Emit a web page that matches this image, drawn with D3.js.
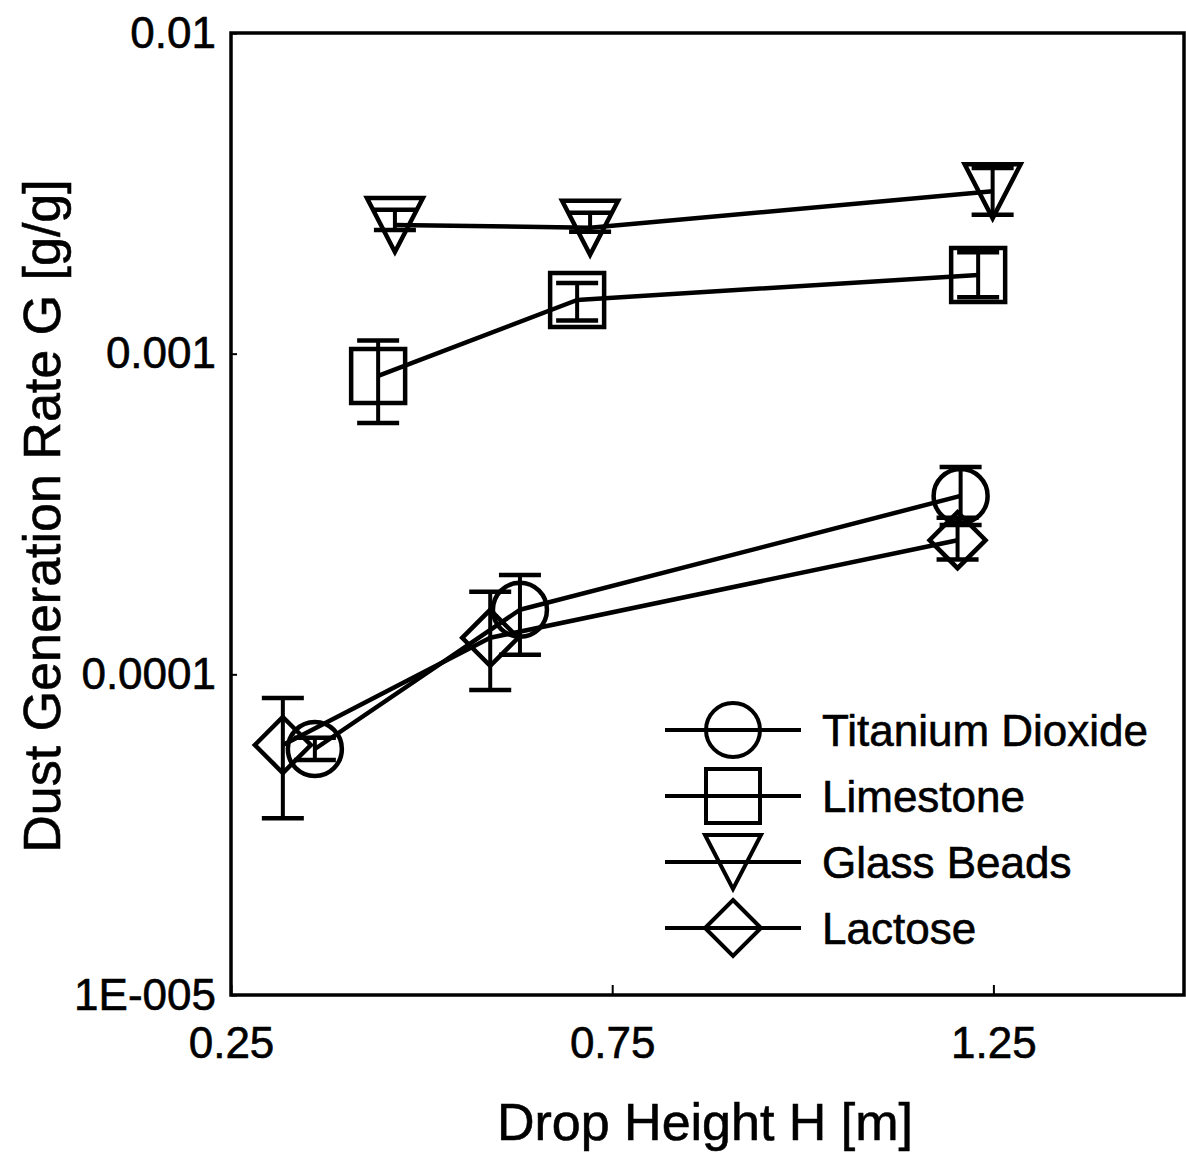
<!DOCTYPE html>
<html>
<head>
<meta charset="utf-8">
<script src="https://cdn.jsdelivr.net/npm/d3@7"></script>
<style>
  html, body { margin: 0; padding: 0; background: #fff; }
  svg { display: block; }
  text { font-family: "Liberation Sans", Arial, sans-serif; fill: #000; stroke: #000; stroke-width: 0.6px; }
</style>
</head>
<body>
<svg id="chart" width="1186" height="1158"></svg>
<script>
// ---------- data ----------
const xTicks = [0.25, 0.75, 1.25];
const xTickLabels = ["0.25", "0.75", "1.25"];
const yTicks = [0.01, 0.001, 0.0001, 0.00001];
const yTickLabels = ["0.01", "0.001", "0.0001", "1E-005"];

const seriesNames = ["Titanium Dioxide", "Limestone", "Glass Beads", "Lactose"];
const seriesSymbols = ["circle", "square", "triangle", "diamond"];

const tio2H    = [0.360, 0.629, 1.207];
const tio2G    = [5.85e-5, 1.59e-4, 3.60e-4];
const tio2Lo   = [5.41e-5, 1.15e-4, 2.92e-4];
const tio2Hi   = [6.34e-5, 2.04e-4, 4.43e-4];

const limeH    = [0.443, 0.704, 1.230];
const limeG    = [8.52e-4, 1.47e-3, 1.76e-3];
const limeLo   = [6.08e-4, 1.27e-3, 1.50e-3];
const limeHi   = [1.10e-3, 1.66e-3, 2.07e-3];

const glassH   = [0.465, 0.721, 1.249];
const glassG   = [2.52e-3, 2.47e-3, 3.21e-3];
const glassLo  = [2.43e-3, 2.40e-3, 2.71e-3];
const glassHi  = [2.81e-3, 2.75e-3, 3.79e-3];

const lactH    = [0.318, 0.590, 1.203];
const lactG    = [6.02e-5, 1.30e-4, 2.62e-4];
const lactLo   = [3.56e-5, 8.93e-5, 2.28e-4];
const lactHi   = [8.43e-5, 1.81e-4, 3.08e-4];

// ---------- layout ----------
const svg = d3.select("#chart");
const L = 231, R = 1184, T = 33, B = 995;

const x = d3.scaleLinear().domain([0.25, 1.5]).range([L, R]);
const y = d3.scaleLog().domain([0.00001, 0.01]).range([B, T]);

// frame
svg.append("rect")
  .attr("x", L).attr("y", T).attr("width", R - L).attr("height", B - T)
  .attr("fill", "none").attr("stroke", "#000").attr("stroke-width", 3.5);

// x axis
const xAxis = svg.append("g").attr("transform", `translate(0,${B})`)
  .call(d3.axisBottom(x).tickValues(xTicks)
    .tickFormat((d, i) => xTickLabels[i])
    .tickSizeInner(-10).tickSizeOuter(0).tickPadding(32));
xAxis.select(".domain").remove();
xAxis.selectAll("line").attr("stroke", "#000").attr("stroke-width", 2);
xAxis.selectAll("text").attr("font-size", 44).attr("font-family", '"Liberation Sans", Arial, sans-serif').attr("fill", "#000");

// y axis
const yAxis = svg.append("g").attr("transform", `translate(${L},0)`)
  .call(d3.axisLeft(y).tickValues(yTicks)
    .tickFormat((d, i) => yTickLabels[i])
    .tickSizeInner(-6).tickSizeOuter(0).tickPadding(15));
yAxis.select(".domain").remove();
yAxis.selectAll("line").attr("stroke", "#000").attr("stroke-width", 2);
yAxis.selectAll("text").attr("font-size", 44).attr("font-family", '"Liberation Sans", Arial, sans-serif').attr("fill", "#000");

// axis titles
svg.append("text")
  .attr("x", 705).attr("y", 1140)
  .attr("text-anchor", "middle").attr("font-size", 52)
  .text("Drop Height H [m]");

svg.append("text")
  .attr("transform", "translate(60,516) rotate(-90)")
  .attr("text-anchor", "middle").attr("font-size", 52)
  .text("Dust Generation Rate G [g/g]");

// ---------- marker shapes ----------
function markerPath(type) {
  const r = 27;
  switch (type) {
    case "circle": {
      const p = d3.path(); p.arc(0, 0, r, 0, 2 * Math.PI); p.closePath(); return p.toString();
    }
    case "square":
      return `M${-r},${-r}H${r}V${r}H${-r}Z`;
    case "triangle":
      return `M${-28},${-27}H${28}L0,${27}Z`;
    case "diamond":
      return `M0,${-28}L${28},0L0,${28}L${-28},0Z`;
  }
}

const series = [
  { name: seriesNames[0], sym: seriesSymbols[0], h: tio2H, g: tio2G, lo: tio2Lo, hi: tio2Hi },
  { name: seriesNames[1], sym: seriesSymbols[1], h: limeH, g: limeG, lo: limeLo, hi: limeHi },
  { name: seriesNames[2], sym: seriesSymbols[2], h: glassH, g: glassG, lo: glassLo, hi: glassHi },
  { name: seriesNames[3], sym: seriesSymbols[3], h: lactH, g: lactG, lo: lactLo, hi: lactHi }
];

const line = d3.line().x(d => x(d.h)).y(d => y(d.g));
const plot = svg.append("g");

series.forEach(s => {
  const pts = s.h.map((h, i) => ({ h, g: s.g[i], lo: s.lo[i], hi: s.hi[i] }));
  plot.append("path").datum(pts)
    .attr("d", line).attr("fill", "none")
    .attr("stroke", "#000").attr("stroke-width", 4.5).attr("stroke-linejoin", "round");

  const eb = plot.append("g").selectAll("g").data(pts).join("g");
  eb.append("line")
    .attr("x1", d => x(d.h)).attr("x2", d => x(d.h))
    .attr("y1", d => y(d.lo)).attr("y2", d => y(d.hi))
    .attr("stroke", "#000").attr("stroke-width", 4);
  eb.append("line")
    .attr("x1", d => x(d.h) - 21).attr("x2", d => x(d.h) + 21)
    .attr("y1", d => y(d.hi)).attr("y2", d => y(d.hi))
    .attr("stroke", "#000").attr("stroke-width", 4.5);
  eb.append("line")
    .attr("x1", d => x(d.h) - 21).attr("x2", d => x(d.h) + 21)
    .attr("y1", d => y(d.lo)).attr("y2", d => y(d.lo))
    .attr("stroke", "#000").attr("stroke-width", 4.5);

  plot.append("g").selectAll("path").data(pts).join("path")
    .attr("d", markerPath(s.sym))
    .attr("transform", d => `translate(${x(d.h)},${y(d.g)})`)
    .attr("fill", "none").attr("stroke", "#000").attr("stroke-width", 4.5);
});

// ---------- legend ----------
const legend = svg.append("g").attr("transform", "translate(0,730)");
const rowGap = 66;
series.forEach((s, i) => {
  const g = legend.append("g").attr("transform", `translate(0,${i * rowGap})`);
  g.append("line").attr("x1", 665).attr("x2", 801).attr("y1", 0).attr("y2", 0)
    .attr("stroke", "#000").attr("stroke-width", 4);
  g.append("path").attr("d", markerPath(s.sym))
    .attr("transform", "translate(733,0)")
    .attr("fill", "none").attr("stroke", "#000").attr("stroke-width", 4);
  g.append("text").attr("x", 822).attr("y", 16)
    .attr("font-size", 44).text(s.name);
});
</script>
</body>
</html>
